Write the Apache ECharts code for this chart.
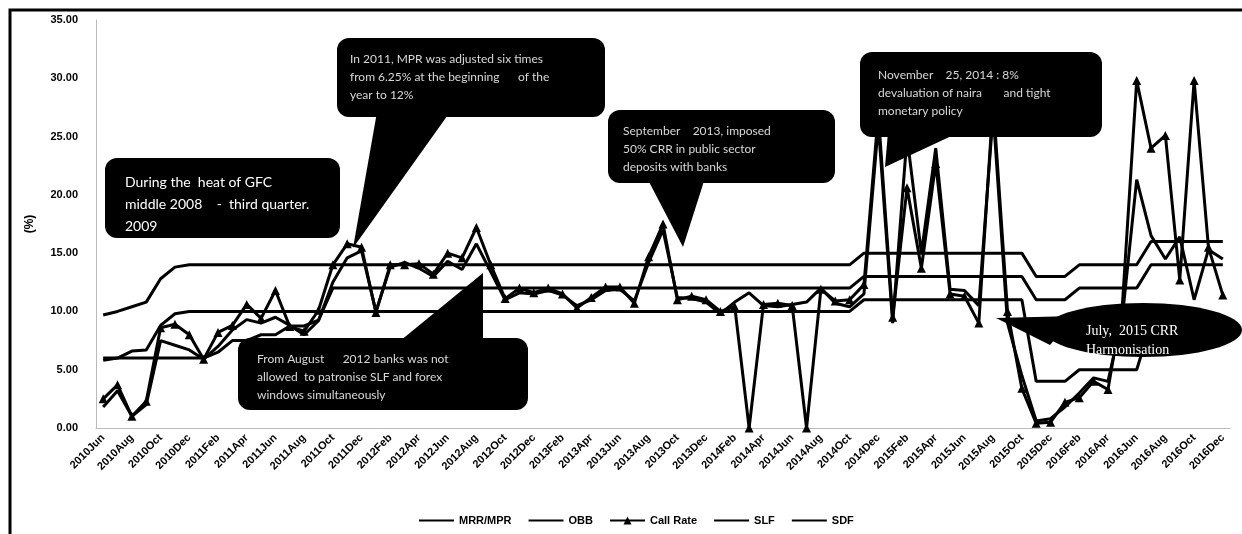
<html>
<head>
<meta charset="utf-8">
<style>
  html, body { margin: 0; padding: 0; background: #fff; }
  #chart { width: 1242px; height: 534px; }
</style>
<script src="https://cdn.jsdelivr.net/npm/echarts@6/dist/echarts.min.js"></script>
</head>
<body>
<div id="chart"></div>
<script>
// months, Jun 2010 .. Dec 2016
var months = [
  '2010Jun','2010Jul','2010Aug','2010Sep','2010Oct','2010Nov','2010Dec',
  '2011Jan','2011Feb','2011Mar','2011Apr','2011May','2011Jun','2011Jul','2011Aug','2011Sep','2011Oct','2011Nov','2011Dec',
  '2012Jan','2012Feb','2012Mar','2012Apr','2012May','2012Jun','2012Jul','2012Aug','2012Sep','2012Oct','2012Nov','2012Dec',
  '2013Jan','2013Feb','2013Mar','2013Apr','2013May','2013Jun','2013Jul','2013Aug','2013Sep','2013Oct','2013Nov','2013Dec',
  '2014Jan','2014Feb','2014Mar','2014Apr','2014May','2014Jun','2014Jul','2014Aug','2014Sep','2014Oct','2014Nov','2014Dec',
  '2015Jan','2015Feb','2015Mar','2015Apr','2015May','2015Jun','2015Jul','2015Aug','2015Sep','2015Oct','2015Nov','2015Dec',
  '2016Jan','2016Feb','2016Mar','2016Apr','2016May','2016Jun','2016Jul','2016Aug','2016Sep','2016Oct','2016Nov','2016Dec'
];

var mpr = [
  6, 6, 6, 6, 6, 6, 6, 6, 6.5, 7.5, 7.5, 8, 8, 8.75, 8.75, 9.25,
  12, 12, 12, 12, 12, 12, 12, 12, 12, 12, 12, 12, 12, 12, 12, 12, 12, 12, 12, 12,
  12, 12, 12, 12, 12, 12, 12, 12, 12, 12, 12, 12, 12, 12, 12, 12, 12,
  13, 13, 13, 13, 13, 13, 13, 13, 13, 13, 13, 13,
  11, 11, 11, 12, 12, 12, 12, 12, 14, 14, 14, 14, 14, 14
];

var obb = [
  1.8, 3.2, 1.0, 2.0, 7.5, 7.1, 6.7, 5.9, 7.0, 8.4, 9.3, 9.0, 9.5, 8.8, 8.0, 9.2,
  12.5, 14.6, 15.2, 10.0, 13.8, 14.2, 13.7, 13.0, 14.3, 13.6, 15.8, 13.4, 11.0, 11.6, 11.5,
  11.8, 11.4, 10.5, 11.0, 11.8, 11.9, 10.9, 14.2, 17.0, 11.2, 11.1, 10.8,
  9.8, 10.8, 11.6, 10.5, 10.4, 10.6, 10.8, 12.0, 10.7, 10.4, 11.5, 26.0,
  9.0, 25.0, 15.0, 24.0, 11.9, 11.8, 10.5, 27.0, 9.0, 4.5, 0.6, 0.8,
  1.8, 3.0, 4.3, 4.0, 9.5, 21.3, 16.5, 14.5, 16.4, 11.0, 15.3, 14.5
];

var callRate = [
  2.5, 3.7, 1.0, 2.3, 8.6, 8.9, 8.0, 5.9, 8.2, 8.8, 10.6, 9.4, 11.8, 8.7, 8.3, 10.1,
  14.0, 15.8, 15.5, 9.9, 14.0, 14.0, 14.1, 13.2, 15.0, 14.6, 17.2, 14.0, 11.1, 12.0, 11.6,
  12.0, 11.5, 10.3, 11.2, 12.1, 12.1, 10.7, 14.7, 17.5, 11.0, 11.3, 11.0,
  10.0, 10.4, 0.0, 10.6, 10.7, 10.5, 0.0, 11.9, 10.9, 11.0, 12.3, 27.0,
  9.5, 20.6, 13.7, 22.7, 11.5, 11.3, 9.0, 28.0, 10.0, 3.4, 0.4, 0.5,
  2.2, 2.6, 4.0, 3.3, 10.5, 29.8, 24.0, 25.1, 12.7, 29.8, 15.5, 11.4
];

var slf = [
  9.7, 10.0, 10.4, 10.8, 12.8, 13.8,
  14, 14, 14, 14, 14, 14, 14, 14, 14, 14, 14, 14, 14, 14, 14, 14, 14, 14, 14, 14,
  14, 14, 14, 14, 14, 14, 14, 14, 14, 14, 14, 14, 14, 14, 14, 14, 14, 14, 14, 14,
  14, 14, 14, 14, 14, 14, 14,
  15, 15, 15, 15, 15, 15, 15, 15, 15, 15, 15, 15,
  13, 13, 13, 14, 14, 14, 14, 14, 16, 16, 16, 16, 16, 16
];

var sdf = [
  5.8, 6.0, 6.6, 6.7, 8.8, 9.8,
  10, 10, 10, 10, 10, 10, 10, 10, 10, 10, 10, 10, 10, 10, 10, 10, 10, 10, 10, 10,
  10, 10, 10, 10, 10, 10, 10, 10, 10, 10, 10, 10, 10, 10, 10, 10, 10, 10, 10, 10,
  10, 10, 10, 10, 10, 10, 10,
  11, 11, 11, 11, 11, 11, 11, 11, 11, 11, 11, 11,
  4, 4, 4, 5, 5, 5, 5, 5, 9, 9, 9, 9, 9, 9
];

var yTicks = [0, 5, 10, 15, 20, 25, 30, 35];

function lineSeries(name, data, withMarker) {
  return {
    name: name,
    type: 'line',
    data: data,
    symbol: withMarker ? 'triangle' : 'none',
    symbolSize: 9,
    showSymbol: withMarker,
    lineStyle: { color: '#000', width: 3 },
    itemStyle: { color: '#000' },
    z: 2
  };
}

// legend entry; plain lines get an invisible symbol so only the stroke shows
function legendItem(name, withMarker) {
  var item = { name: name };
  if (!withMarker) item.itemStyle = { color: 'rgba(0,0,0,0)', borderWidth: 0 };
  return item;
}

// black call-out boxes
var boxFont = 'Lato, "Open Sans", sans-serif';
function box(x, y, w, h) {
  return { type: 'rect', z: 100, shape: { x: x, y: y, width: w, height: h, r: 12 }, style: { fill: '#000' } };
}
function wedge(points) {
  return { type: 'polygon', z: 100, shape: { points: points }, style: { fill: '#000' } };
}
function note(x, y, txt, size, color, lh) {
  return {
    type: 'text', z: 101, x: x, y: y,
    style: { text: txt, fill: color, font: size + 'px ' + boxFont, lineHeight: lh }
  };
}

var chart = echarts.init(document.getElementById('chart'));
chart.setOption({
  animation: false,
  backgroundColor: '#fff',
  grid: { left: 96, right: 12, top: 20, bottom: 106 },
  legend: {
    left: 413, top: 510,
    itemWidth: 35, itemHeight: 10, itemGap: 16,
    textStyle: { color: '#000', fontWeight: 'bold', fontSize: 11, fontFamily: '"Liberation Sans", Arial, sans-serif' },
    data: [
      legendItem('MRR/MPR', false),
      legendItem('OBB', false),
      legendItem('Call Rate', true),
      legendItem('SLF', false),
      legendItem('SDF', false)
    ]
  },
  xAxis: {
    type: 'category',
    data: months,
    boundaryGap: true,
    axisLine: { lineStyle: { color: '#bbb', width: 1 } },
    axisTick: { show: false },
    axisLabel: {
      interval: 1, rotate: 45, margin: 8,
      color: '#000', fontWeight: 'bold', fontSize: 11,
      fontFamily: '"Liberation Sans", Arial, sans-serif'
    },
    splitLine: { show: false }
  },
  yAxis: {
    type: 'value',
    min: yTicks[0], max: yTicks[yTicks.length - 1], interval: 5,
    name: '(%)', nameLocation: 'middle', nameGap: 60, nameRotate: 90,
    nameTextStyle: { color: '#000', fontWeight: 'bold', fontSize: 12, fontFamily: '"Liberation Sans", Arial, sans-serif' },
    axisLine: { show: true, lineStyle: { color: '#bbb', width: 1 } },
    axisTick: { show: false },
    axisLabel: {
      margin: 18, color: '#000', fontWeight: 'bold', fontSize: 11,
      fontFamily: '"Liberation Sans", Arial, sans-serif',
      formatter: function (v) { return v.toFixed(2); }
    },
    splitLine: { show: false }
  },
  series: [
    lineSeries('MRR/MPR', mpr, false),
    lineSeries('OBB', obb, false),
    lineSeries('Call Rate', callRate, true),
    lineSeries('SLF', slf, false),
    lineSeries('SDF', sdf, false)
  ],
  graphic: [
    // frame
    { type: 'rect', z: 0, shape: { x: 10, y: 10, width: 1260, height: 560 }, style: { fill: 'none', stroke: '#000', lineWidth: 3 } },

    box(105, 158, 235, 80),
    note(125, 171, 'During the  heat of GFC\nmiddle 2008    -  third quarter.\n2009', 14, '#fff', 22),

    box(337, 38, 268, 79),
    wedge([[377, 112], [450, 112], [353, 248]]),
    note(350, 50, 'In 2011, MPR was adjusted six times\nfrom 6.25% at the beginning      of the\nyear to 12%', 12, '#d8d8d8', 18),

    box(608, 110, 227, 73),
    wedge([[647, 178], [705, 178], [683, 247]]),
    note(623, 122, 'September    2013, imposed\n50% CRR in public sector\ndeposits with banks', 12, '#d8d8d8', 18),

    box(860, 52, 242, 85),
    wedge([[888, 132], [960, 132], [885, 167]]),
    note(878, 66, 'November    25, 2014 : 8% \ndevaluation of naira       and tight\nmonetary policy', 12, '#d8d8d8', 18),

    box(238, 338, 290, 72),
    wedge([[400, 341], [483, 273], [483, 341]]),
    note(257, 350, 'From August      2012 banks was not\nallowed  to patronise SLF and forex\nwindows simultaneously', 12, '#d8d8d8', 18),

    wedge([[996, 318], [1075, 316], [1050, 345]]),
    { type: 'ellipse', z: 100, shape: { cx: 1143, cy: 330, rx: 99, ry: 27 }, style: { fill: '#000' } },
    {
      type: 'text', z: 101, x: 1086, y: 322,
      style: { text: 'July,  2015 CRR\nHarmonisation', fill: '#fff', font: '14px "Liberation Serif", "DejaVu Serif", serif', lineHeight: 19 }
    }
  ]
});
</script>
</body>
</html>
